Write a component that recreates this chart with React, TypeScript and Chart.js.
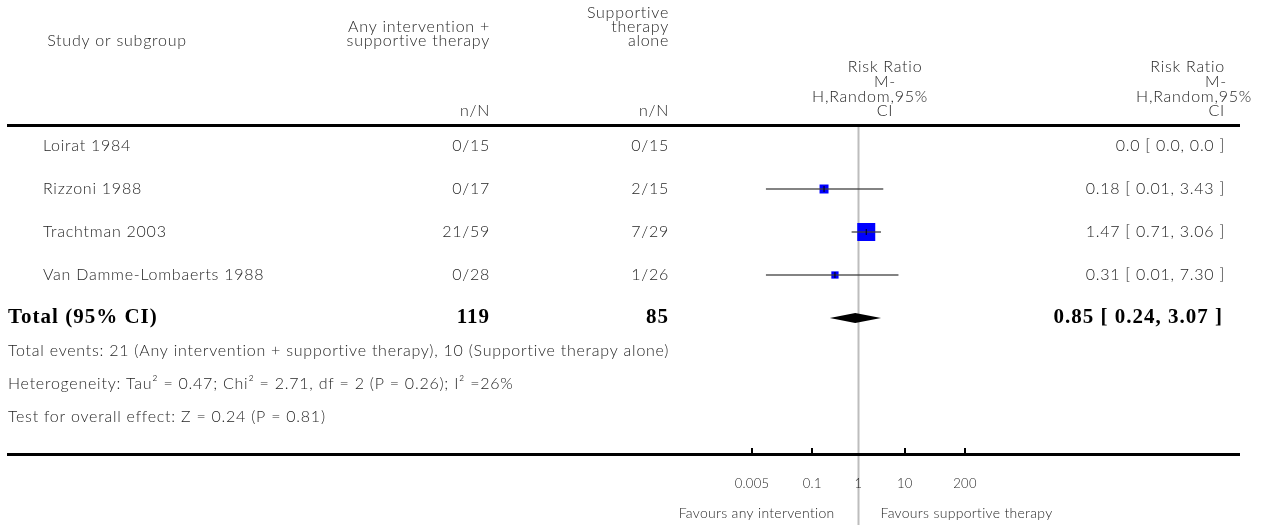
import React, { useEffect, useRef } from "react";
import { Chart, registerables } from "chart.js";

Chart.register(...registerables);

const STUDIES = ["Loirat 1984", "Rizzoni 1988", "Trachtman 2003", "Van Damme-Lombaerts 1988"];
const INT_EVENTS = [0, 0, 21, 0];
const INT_TOTAL = [15, 17, 59, 28];
const CTRL_EVENTS = [0, 2, 7, 1];
const CTRL_TOTAL = [15, 15, 29, 26];
const RR: (number | null)[] = [null, 0.18, 1.47, 0.31];
const RR_LO: (number | null)[] = [null, 0.01, 0.71, 0.01];
const RR_HI: (number | null)[] = [null, 3.43, 3.06, 7.3];
const WEIGHT = [0, 17.6, 70.9, 11.5];
const RR_TEXT = ["0.0 [ 0.0, 0.0 ]", "0.18 [ 0.01, 3.43 ]", "1.47 [ 0.71, 3.06 ]", "0.31 [ 0.01, 7.30 ]"];

const TOTAL_INT = 119;
const TOTAL_CTRL = 85;
const TOTAL_RR = 0.85;
const TOTAL_LO = 0.24;
const TOTAL_HI = 3.07;
const TOTAL_TEXT = "0.85 [ 0.24, 3.07 ]";

const FOOTER = [
  "Total events: 21 (Any intervention + supportive therapy), 10 (Supportive therapy alone)",
  "Heterogeneity: Tau\u00B2 = 0.47; Chi\u00B2 = 2.71, df = 2 (P = 0.26); I\u00B2 =26%",
  "Test for overall effect: Z = 0.24 (P = 0.81)",
];

const TICKS = [0.005, 0.1, 1, 10, 200];
const TICK_LABELS = ["0.005", "0.1", "1", "10", "200"];
const LEFT_LABEL = "Favours any intervention";
const RIGHT_LABEL = "Favours supportive therapy";

const W = 1268;
const H = 525;
const SANS = '"Lato", "Open Sans", sans-serif';
const SERIF = '"Liberation Serif", "DejaVu Serif", serif';
const TEXT = "#262626";

function txt(
  ctx: CanvasRenderingContext2D,
  s: string,
  x: number,
  y: number,
  align: CanvasTextAlign,
  font: string,
  color = TEXT,
  spacing = "0px"
) {
  ctx.save();
  ctx.font = font;
  (ctx as any).letterSpacing = spacing;
  ctx.fillStyle = color;
  ctx.textAlign = align;
  ctx.textBaseline = "middle";
  ctx.fillText(s, x, y);
  ctx.restore();
}

const forestPlugin = {
  id: "forest",
  beforeDatasetsDraw(chart: any) {
    const ctx = chart.ctx as CanvasRenderingContext2D;
    const xs = chart.scales.x;
    const x1 = xs.getPixelForValue(1);
    ctx.save();
    ctx.strokeStyle = "#bdbdbd";
    ctx.lineWidth = 2;
    ctx.beginPath();
    ctx.moveTo(x1, 127);
    ctx.lineTo(x1, H);
    ctx.stroke();
    ctx.restore();
  },
  afterDatasetsDraw(chart: any) {
    const ctx = chart.ctx as CanvasRenderingContext2D;
    const xs = chart.scales.x;
    const ys = chart.scales.y;
    const yT = ys.getPixelForValue(STUDIES.length);
    const h = 5;
    ctx.save();
    ctx.fillStyle = "#000";
    ctx.beginPath();
    ctx.moveTo(xs.getPixelForValue(TOTAL_LO), yT);
    ctx.lineTo(xs.getPixelForValue(TOTAL_RR), yT - h);
    ctx.lineTo(xs.getPixelForValue(TOTAL_HI), yT);
    ctx.lineTo(xs.getPixelForValue(TOTAL_RR), yT + h);
    ctx.closePath();
    ctx.fill();
    ctx.restore();
  },
  afterDraw(chart: any) {
    const ctx = chart.ctx as CanvasRenderingContext2D;
    const xs = chart.scales.x;
    const ys = chart.scales.y;
    const fB = `300 16px ${SANS}`;
    const sp = "0.75px";
    const f13 = `300 13px ${SANS}`;
    const f14 = `300 14px ${SANS}`;

    // rules
    ctx.save();
    ctx.fillStyle = "#000";
    ctx.fillRect(7, 124, 1233, 3);
    ctx.fillRect(7, 453, 1233, 3);
    TICKS.forEach((t) => {
      if (t === 1) return;
      ctx.fillRect(Math.round(xs.getPixelForValue(t)) - 1, 448, 2, 6);
    });
    ctx.restore();

    // headers
    txt(ctx, "Study or subgroup", 117, 41, "center", fB, TEXT, sp);
    txt(ctx, "Any intervention +", 490, 27, "right", fB, TEXT, sp);
    txt(ctx, "supportive therapy", 490, 41, "right", fB, TEXT, sp);
    txt(ctx, "n/N", 490, 111, "right", fB, TEXT, sp);
    txt(ctx, "Supportive", 669, 13, "right", fB, TEXT, sp);
    txt(ctx, "therapy", 669, 27, "right", fB, TEXT, sp);
    txt(ctx, "alone", 669, 41, "right", fB, TEXT, sp);
    txt(ctx, "n/N", 669, 111, "right", fB, TEXT, sp);
    txt(ctx, "Risk Ratio", 885, 67, "center", fB, TEXT, sp);
    txt(ctx, "M-", 885, 82, "center", fB, TEXT, sp);
    txt(ctx, "H,Random,95%", 870, 97, "center", fB, TEXT, sp);
    txt(ctx, "CI", 885, 111, "center", fB, TEXT, sp);
    txt(ctx, "Risk Ratio", 1225, 67, "right", fB, TEXT, sp);
    txt(ctx, "M-", 1227, 82, "right", fB, TEXT, sp);
    txt(ctx, "H,Random,95%", 1252, 97, "right", fB, TEXT, sp);
    txt(ctx, "CI", 1225, 111, "right", fB, TEXT, sp);

    // study rows
    STUDIES.forEach((s, i) => {
      const y = ys.getPixelForValue(i);
      txt(ctx, s, 43, y, "left", fB, TEXT, sp);
      txt(ctx, `${INT_EVENTS[i]}/${INT_TOTAL[i]}`, 490, y, "right", fB, TEXT, sp);
      txt(ctx, `${CTRL_EVENTS[i]}/${CTRL_TOTAL[i]}`, 669, y, "right", fB, TEXT, sp);
      txt(ctx, RR_TEXT[i], 1225, y, "right", fB, TEXT, sp);
    });

    // total
    const yT = ys.getPixelForValue(STUDIES.length);
    const fb = `bold 21px ${SERIF}`;
    txt(ctx, "Total (95% CI)", 8, yT, "left", fb, "#000", "1px");
    txt(ctx, String(TOTAL_INT), 490, yT, "right", fb, "#000", "1px");
    txt(ctx, String(TOTAL_CTRL), 669, yT, "right", fb, "#000", "1px");
    txt(ctx, TOTAL_TEXT, 1223, yT, "right", fb, "#000", "1px");

    FOOTER.forEach((s, i) => {
      txt(ctx, s, 8, 351 + i * 33, "left", fB, TEXT, sp);
    });

    // axis labels
    TICKS.forEach((t, i) => {
      txt(ctx, TICK_LABELS[i], xs.getPixelForValue(t), 484, "center", f13, TEXT, "0.3px");
    });
    const x1 = xs.getPixelForValue(1);
    txt(ctx, LEFT_LABEL, x1 - 24, 513, "right", f14, TEXT, "0.3px");
    txt(ctx, RIGHT_LABEL, x1 + 22, 513, "left", f14, TEXT, "0.3px");
  },
};

export default function App() {
  const ref = useRef<HTMLCanvasElement | null>(null);
  useEffect(() => {
    if (!ref.current) return;
    const idx = STUDIES.map((_, i) => i).filter((i) => RR[i] !== null);
    const ciSets = idx.map((i) => ({
      type: "line" as const,
      data: [
        { x: RR_LO[i] as number, y: i },
        { x: RR_HI[i] as number, y: i },
      ],
      borderColor: "rgba(60,60,60,0.85)",
      borderWidth: 1.5,
      pointRadius: 0,
      fill: false,
      clip: false as any,
      order: 2,
    }));
    const chart = new Chart(ref.current, {
      type: "scatter",
      data: {
        datasets: [
          {
            type: "scatter",
            data: idx.map((i) => ({ x: RR[i] as number, y: i })),
            pointStyle: "line",
            rotation: 90,
            pointRadius: 3,
            borderColor: "#000",
            borderWidth: 1,
            clip: false as any,
            order: 1,
          } as any,
          ...ciSets,
          {
            type: "scatter",
            data: idx.map((i) => ({ x: RR[i] as number, y: i })),
            pointStyle: "rect",
            pointRadius: idx.map((i) => (2.14 * Math.sqrt(WEIGHT[i])) / Math.SQRT2),
            backgroundColor: "#0000ff",
            borderWidth: 0,
            clip: false as any,
            order: 3,
          } as any,
        ],
      },
      options: {
        responsive: false,
        animation: false,
        devicePixelRatio: 1,
        layout: { padding: { left: 752, right: W - 965, top: 146, bottom: H - 318 } },
        plugins: { legend: { display: false }, tooltip: { enabled: false } },
        scales: {
          x: { type: "logarithmic", min: TICKS[0], max: TICKS[TICKS.length - 1], display: false },
          y: { type: "linear", min: 0, max: STUDIES.length, reverse: true, display: false },
        },
      },
      plugins: [forestPlugin],
    });
    return () => chart.destroy();
  }, []);
  return (
    <div style={{ position: "absolute", left: 0, top: 0, width: W, height: H, background: "#fff" }}>
      <canvas ref={ref} width={W} height={H} style={{ display: "block", width: W, height: H }} />
    </div>
  );
}
